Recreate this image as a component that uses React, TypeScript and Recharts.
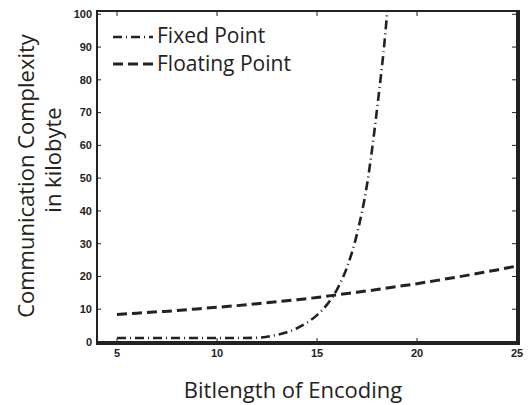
import React from 'react';
import { LineChart, Line, XAxis, YAxis } from 'recharts';

// Bitlength values and communication complexity (kilobyte)
const fixedBits = [5, 6, 7, 8, 9, 10, 11, 12, 12.5, 13, 13.5, 14, 14.5, 15, 15.5, 16, 16.5, 17, 17.5, 18, 18.5, 19];
const fixedKB = [1.2, 1.2, 1.2, 1.2, 1.2, 1.2, 1.2, 1.3, 1.6, 2.2, 3.0, 4.2, 5.9, 8.2, 11.4, 16, 22.8, 33, 48, 71, 100, 145];

const floatBits = [5, 6, 7, 8, 9, 10, 11, 12, 13, 14, 15, 16, 17, 18, 19, 20, 21, 22, 23, 24, 25];
const floatKB = [8.4, 8.8, 9.2, 9.6, 10.1, 10.6, 11.1, 11.7, 12.3, 12.9, 13.6, 14.4, 15.2, 16.0, 16.9, 17.8, 18.8, 19.8, 20.9, 22.0, 23.2];

const xTicks = [5, 10, 15, 20, 25];
const yTicks = [0, 10, 20, 30, 40, 50, 60, 70, 80, 90, 100];
const xDomain = [4, 25];
const yDomain = [0, 101];

const seriesNames = ['Fixed Point', 'Floating Point'];
const xTitle = 'Bitlength of Encoding';
const yTitleLines = ['Communication Complexity', 'in kilobyte'];

const fixedData = fixedBits.map((b, i) => ({ bits: b, kb: fixedKB[i] }));
const floatData = floatBits.map((b, i) => ({ bits: b, kb: floatKB[i] }));

const INK = '#222';
const FIXED_DASH = '9 4 1 4';
const FLOAT_DASH = '10 5';
const titleFont = '"Open Sans", sans-serif';
const tickStyle = { fontSize: 11, fontWeight: 'bold' as const, fill: INK, fontFamily: '"Liberation Sans", Arial, sans-serif' };

// chart geometry (frame decoration only)
const W = 529;
const H = 405;
const M = { top: 11, right: 12, bottom: 33, left: 0 };
const Y_AXIS_W = 97;
const X_AXIS_H = 30;
const PL = M.left + Y_AXIS_W;
const PR = W - M.right;
const PT = M.top;
const PB = H - M.bottom - X_AXIS_H;
const sx = (v: number) => PL + ((v - xDomain[0]) / (xDomain[1] - xDomain[0])) * (PR - PL);
const sy = (v: number) => PB - ((v - yDomain[0]) / (yDomain[1] - yDomain[0])) * (PB - PT);

export default function App() {
  return (
    <div style={{ position: 'absolute', left: 0, top: 0, width: W, height: H, background: '#fff' }}>
      <div style={{ position: 'absolute', left: 0, top: 0 }}>
        <LineChart width={W} height={H} margin={M}>
          <XAxis
            dataKey="bits"
            type="number"
            domain={xDomain}
            ticks={xTicks}
            allowDataOverflow
            height={X_AXIS_H}
            tickSize={-4}
            tickMargin={11}
            tick={tickStyle}
            axisLine={{ stroke: INK, strokeWidth: 2 }}
            tickLine={{ stroke: INK, strokeWidth: 1 }}
          />
          <YAxis
            type="number"
            domain={yDomain}
            ticks={yTicks}
            allowDataOverflow
            width={Y_AXIS_W}
            tickSize={-4}
            tickMargin={9}
            tick={tickStyle}
            axisLine={{ stroke: INK, strokeWidth: 2 }}
            tickLine={{ stroke: INK, strokeWidth: 1 }}
          />
          <Line
            data={fixedData}
            dataKey="kb"
            type="monotone"
            stroke={INK}
            strokeWidth={2.6}
            strokeDasharray={FIXED_DASH}
            dot={false}
            activeDot={false}
            isAnimationActive={false}
            name={seriesNames[0]}
          />
          <Line
            data={floatData}
            dataKey="kb"
            type="monotone"
            stroke={INK}
            strokeWidth={3}
            strokeDasharray={FLOAT_DASH}
            dot={false}
            activeDot={false}
            isAnimationActive={false}
            name={seriesNames[1]}
          />
        </LineChart>
      </div>
      <div
        style={{
          position: 'absolute',
          left: PL - 1,
          top: PT - 1,
          width: PR - PL,
          height: PB - PT,
          border: `2px solid ${INK}`,
          pointerEvents: 'none',
        }}
      />
      <svg width={W} height={H} style={{ position: 'absolute', left: 0, top: 0, pointerEvents: 'none' }}>
        <rect x={PL} y={PT} width={PR - PL} height={PB - PT} fill="none" stroke={INK} strokeWidth={2} />
        {xTicks.map((t) => (
          <line key={'tx' + t} x1={sx(t)} x2={sx(t)} y1={PT} y2={PT + 5} stroke={INK} strokeWidth={1} />
        ))}
        {yTicks.map((t) => (
          <line key={'ty' + t} x1={PR - 5} x2={PR} y1={sy(t)} y2={sy(t)} stroke={INK} strokeWidth={1} />
        ))}
        <line x1={113} x2={153} y1={37} y2={37} stroke={INK} strokeWidth={2.6} strokeDasharray={FIXED_DASH} />
        <text x={157} y={43} fontSize={21} fontFamily={titleFont} fill={INK}>{seriesNames[0]}</text>
        <line x1={113} x2={153} y1={64} y2={64} stroke={INK} strokeWidth={3} strokeDasharray={FLOAT_DASH} />
        <text x={157} y={71} fontSize={21} fontFamily={titleFont} fill={INK}>{seriesNames[1]}</text>
        <text x={293} y={398} fontSize={22} fontFamily={titleFont} fill={INK} textAnchor="middle">{xTitle}</text>
        <text transform="translate(34,176) rotate(-90)" fontSize={22} fontFamily={titleFont} fill={INK} textAnchor="middle">{yTitleLines[0]}</text>
        <text transform="translate(61,160) rotate(-90)" fontSize={22} fontFamily={titleFont} fill={INK} textAnchor="middle">{yTitleLines[1]}</text>
      </svg>
    </div>
  );
}
